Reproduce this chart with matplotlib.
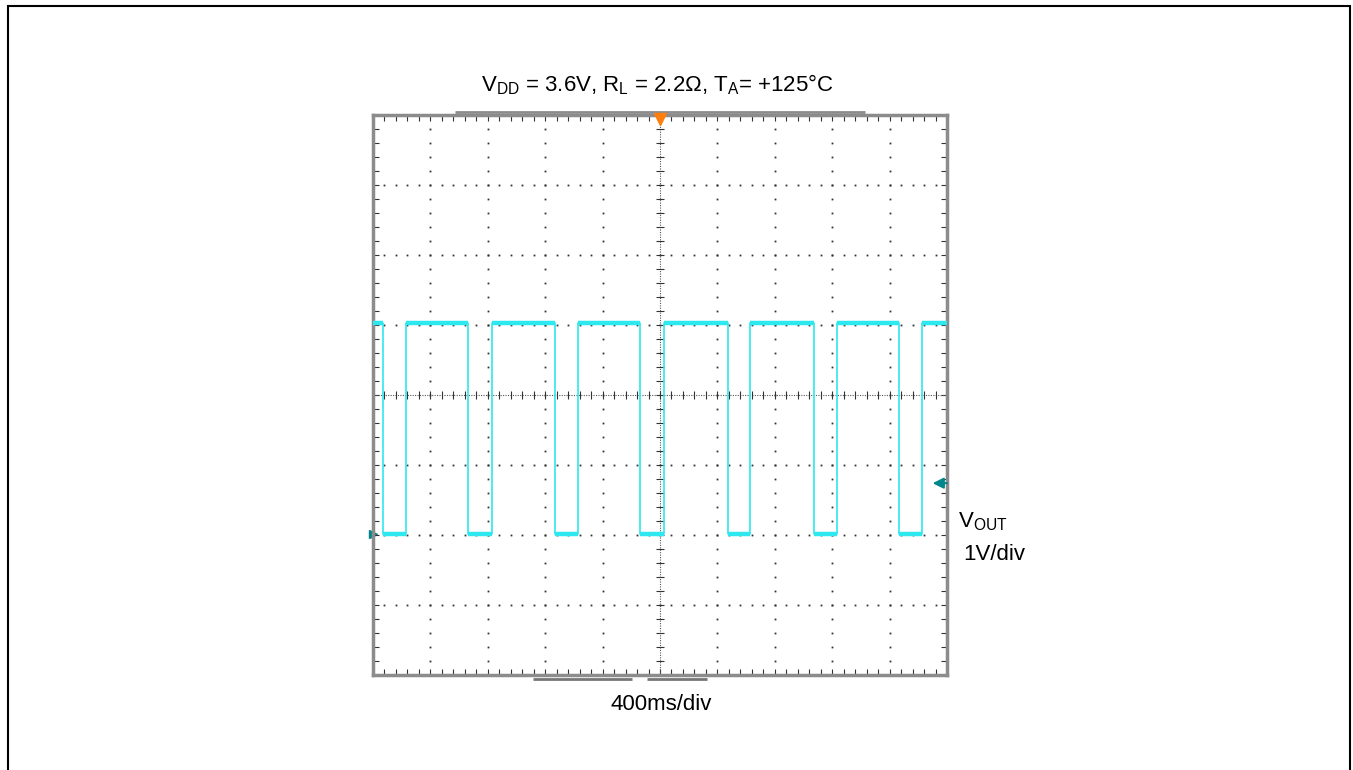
import numpy as np
import matplotlib
matplotlib.use("Agg")
import matplotlib.pyplot as plt
from matplotlib.patches import Rectangle

plt.rcParams['font.family'] = ['Liberation Sans', 'DejaVu Sans']
plt.rcParams['mathtext.fontset'] = 'custom'
plt.rcParams['mathtext.rm'] = 'Liberation Sans'
plt.rcParams['mathtext.default'] = 'regular'
fsize = 16

# scope screen in divisions: 10 horizontal x 8 vertical
x_divs = 10
y_divs = 8
# square wave transitions (in divisions from the left edge)
fall_times = [0.17, 1.66, 3.17, 4.65, 6.18, 7.68, 9.17]
rise_times = [0.57, 2.08, 3.58, 5.07, 6.57, 8.08, 9.57]
high_level = 1.03    # divisions above center
low_level = -1.99
ground_level = -1.26  # channel marker
trigger_pos = 5.0

title = r"V$_{DD}$ = 3.6V, R$_{L}$ = 2.2Ω, T$_{A}$= +125°C"
xlabel = "400ms/div"
ch_label = r"V$_{OUT}$"
ch_scale = "1V/div"

trace_color = '#2ee8f0'
marker_color = '#00868b'

fig = plt.figure(figsize=(13.53, 7.7), dpi=100)
ax = fig.add_axes([373 / 1353, 1 - 675 / 770, 574 / 1353, 560 / 770])
ax.set_xlim(0, x_divs)
ax.set_ylim(-y_divs / 2, y_divs / 2)

# dotted graticule
minor_x = np.arange(0, x_divs + 0.001, 0.2)
minor_y = np.arange(-y_divs / 2, y_divs / 2 + 0.001, 0.2)
for i in range(1, x_divs):
    if i == x_divs // 2:
        continue
    ax.plot(np.full_like(minor_y, i), minor_y, ls='none', marker='s',
            ms=1.3, color='#333333', mew=0)
for j in range(-y_divs // 2 + 1, y_divs // 2):
    if j == 0:
        continue
    ax.plot(minor_x, np.full_like(minor_x, j), ls='none', marker='s',
            ms=1.3, color='#333333', mew=0)

# center cross with tick marks
ax.axvline(x_divs / 2, color='#555555', lw=0.8, ls=(0, (1, 1.2)))
ax.axhline(0, color='#555555', lw=0.8, ls=(0, (1, 1.2)))
ax.plot(np.full_like(minor_y, x_divs / 2), minor_y, ls='none', marker='_',
        ms=6, mew=0.8, color='#333333')
ax.plot(minor_x, np.zeros_like(minor_x), ls='none', marker='|',
        ms=6, mew=0.8, color='#333333')

# edge ticks
ax.set_xticks(np.arange(0, x_divs + 1, 1))
ax.set_yticks(np.arange(-y_divs / 2, y_divs / 2 + 1, 1))
ax.set_xticks(minor_x, minor=True)
ax.set_yticks(minor_y, minor=True)
ax.tick_params(which='both', direction='in', length=4, width=0.8,
               color='#333333', top=True, right=True,
               labelbottom=False, labelleft=False)
for s in ax.spines.values():
    s.set_color('#8c8c8c')
    s.set_linewidth(2.5)

# waveform
xs = [0.0]
ys = [high_level]
for f, r in zip(fall_times, rise_times):
    xs += [f, f, r, r]
    ys += [high_level, low_level, low_level, high_level]
xs.append(x_divs)
ys.append(high_level)
ax.plot(xs, ys, color=trace_color, lw=1.2, zorder=5)
high_starts = [0.0] + rise_times
high_ends = fall_times + [x_divs]
ax.hlines([high_level] * len(high_starts), high_starts, high_ends,
          color=trace_color, lw=3.2, zorder=5)
ax.hlines([low_level] * len(fall_times), fall_times, rise_times,
          color=trace_color, lw=3.2, zorder=5)

# trigger and channel markers
ax.plot(trigger_pos, y_divs / 2 - 0.05, marker='v', ms=9, color='#ff7f0e',
        clip_on=False, zorder=6)
ax.annotate('', xy=(x_divs - 0.25, ground_level), xytext=(x_divs, ground_level),
            arrowprops=dict(arrowstyle='-|>', color=marker_color, lw=1.5,
                            mutation_scale=16, shrinkA=0, shrinkB=0))
ax.plot(0.0, low_level, marker='>', ms=6, color=marker_color, clip_on=False, zorder=1)

# scope position bars around the frame
ax.plot([0.143, 0.857], [1.006, 1.006], transform=ax.transAxes, color='#8c8c8c',
        lw=2.0, clip_on=False, solid_capstyle='butt')
ax.plot([0.279, 0.451], [-0.008, -0.008], transform=ax.transAxes, color='#777777',
        lw=2.0, clip_on=False, solid_capstyle='butt')
ax.plot([0.477, 0.582], [-0.008, -0.008], transform=ax.transAxes, color='#777777',
        lw=2.0, clip_on=False, solid_capstyle='butt')

# texts
fig.text(657 / 1353, 1 - 91 / 770, title, ha='center', va='baseline', fontsize=fsize)
fig.text(661 / 1353, 1 - 710 / 770, xlabel, ha='center', va='baseline', fontsize=fsize)
fig.text(958 / 1353, 1 - 527 / 770, ch_label, ha='left', va='baseline', fontsize=fsize)
fig.text(963 / 1353, 1 - 560 / 770, ch_scale, ha='left', va='baseline', fontsize=fsize)

# outer border
fig.add_artist(Rectangle((8 / 1353, -0.02), (1350 - 8) / 1353, 1.02 - 6 / 770,
                         transform=fig.transFigure, fill=False, ec='black', lw=1.5))

fig.savefig("out.png", dpi=100)
